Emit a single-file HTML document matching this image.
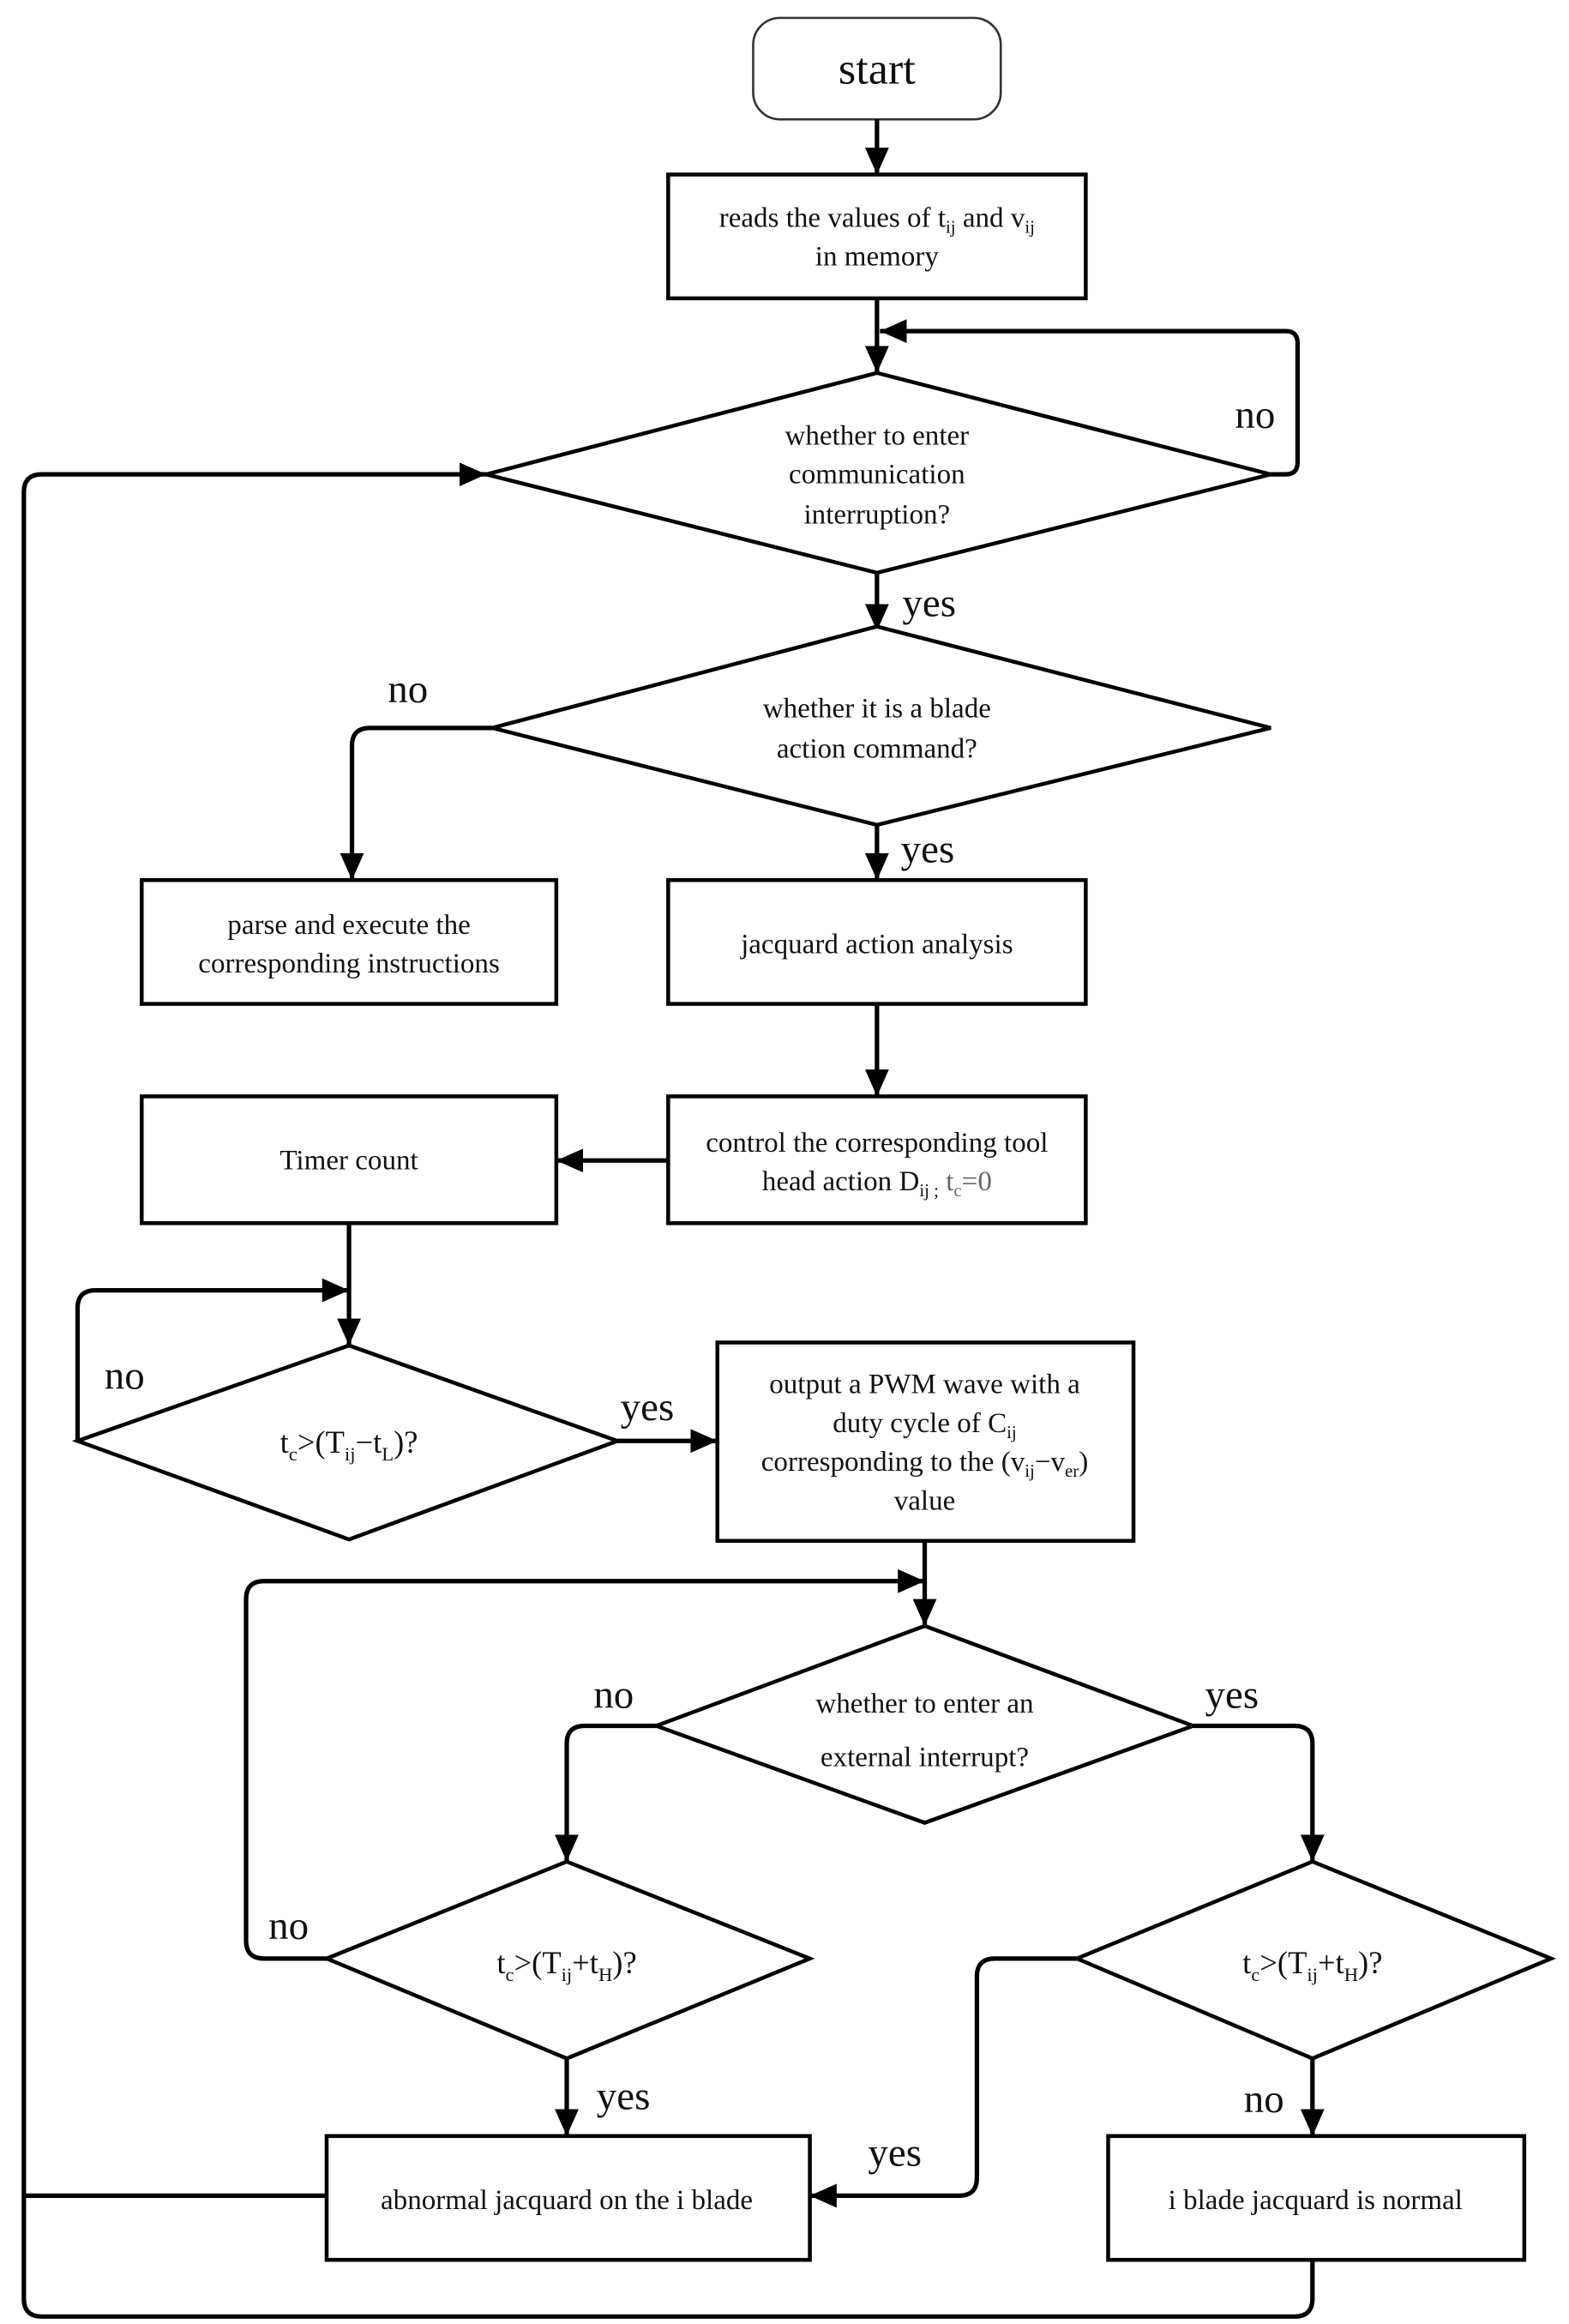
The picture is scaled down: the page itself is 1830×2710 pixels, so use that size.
<!DOCTYPE html>
<html><head><meta charset="utf-8"><style>
html,body{margin:0;padding:0;background:#fff;}
svg{display:block;}
text{font-family:"Liberation Serif",serif;fill:#111;}
.t{font-size:19px;text-anchor:middle;}
.l{font-size:27px;}
.s{stroke:#000;stroke-width:3;fill:none;stroke-linejoin:round;}
.b{stroke:#000;stroke-width:2.6;fill:#fff;}
</style></head><body>
<svg width="1830" height="2710" viewBox="0 0 1052 1558" preserveAspectRatio="none" xmlns="http://www.w3.org/2000/svg">
<defs><marker id="a" markerWidth="10" markerHeight="10" refX="9" refY="5" orient="auto" markerUnits="userSpaceOnUse" viewBox="0 0 10 10"><path d="M0,0 L10,5 L0,10 z" fill="#000"/></marker>
<marker id="A" markerWidth="18" markerHeight="16" refX="18" refY="8" orient="auto" markerUnits="userSpaceOnUse"><path d="M0,0 L18,8 L0,16 z" fill="#000"/></marker></defs>

<rect x="505" y="12" width="166" height="68" rx="18" fill="#fff" stroke="#333" stroke-width="1.5"/>
<text x="588" y="56" class="t" style="font-size:30px">start</text>
<line x1="588" y1="80" x2="588" y2="117" class="s" marker-end="url(#A)"/>

<rect x="448" y="117" width="280" height="83" class="b"/>
<text x="588" y="152" class="t">reads the values of t<tspan font-size="12" dy="4">ij</tspan><tspan dy="-4"> and v</tspan><tspan font-size="12" dy="4">ij</tspan></text>
<text x="588" y="178" class="t">in memory</text>

<line x1="588" y1="200" x2="588" y2="250" class="s" marker-end="url(#A)"/>
<path d="M852,318 H862 Q870,318 870,310 V230 Q870,222 862,222 H590" class="s" marker-end="url(#A)"/>
<text x="828" y="287" class="l">no</text>

<polygon points="326,318 588,250 852,318 588,384" class="b" stroke-width="3"/>
<text x="588" y="298" class="t">whether to enter</text>
<text x="588" y="324" class="t">communication</text>
<text x="588" y="351" class="t">interruption?</text>

<line x1="588" y1="384" x2="588" y2="423" class="s" marker-end="url(#A)"/>
<text x="605" y="413" class="l">yes</text>

<polygon points="330,488 588,420 852,488 588,553" class="b" stroke-width="3"/>
<text x="588" y="481" class="t">whether it is a blade</text>
<text x="588" y="508" class="t">action command?</text>

<path d="M330,488 H248 Q236,488 236,500 V590" class="s" marker-end="url(#A)"/>
<text x="260" y="471" class="l">no</text>
<line x1="588" y1="553" x2="588" y2="590" class="s" marker-end="url(#A)"/>
<text x="604" y="578" class="l">yes</text>

<rect x="95" y="590" width="278" height="83" class="b"/>
<text x="234" y="626" class="t">parse and execute the</text>
<text x="234" y="652" class="t">corresponding instructions</text>
<rect x="448" y="590" width="280" height="83" class="b"/>
<text x="588" y="639" class="t">jacquard action analysis</text>

<line x1="588" y1="673" x2="588" y2="735" class="s" marker-end="url(#A)"/>
<rect x="448" y="735" width="280" height="85" class="b"/>
<text x="588" y="772" class="t">control the corresponding tool</text>
<text x="588" y="798" class="t">head action D<tspan font-size="12" dy="4">ij ;</tspan><tspan dy="-4" fill="#666"> t</tspan><tspan font-size="12" dy="4" fill="#666">c</tspan><tspan dy="-4" fill="#666">=0</tspan></text>
<line x1="448" y1="778" x2="373" y2="778" class="s" marker-end="url(#A)"/>

<rect x="95" y="735" width="278" height="85" class="b"/>
<text x="234" y="784" class="t">Timer count</text>

<line x1="234" y1="820" x2="234" y2="902" class="s" marker-end="url(#A)"/>
<path d="M52,966 V877 Q52,865 64,865 H234" class="s" marker-end="url(#A)"/>
<text x="70" y="931" class="l">no</text>

<polygon points="52,966 234,902 414,966 234,1032" class="b" stroke-width="3"/>
<text x="234" y="974" class="t" style="font-size:21px">t<tspan font-size="13" dy="5">c</tspan><tspan dy="-5">&gt;(T</tspan><tspan font-size="13" dy="5">ij</tspan><tspan dy="-5">−t</tspan><tspan font-size="13" dy="5">L</tspan><tspan dy="-5">)?</tspan></text>

<line x1="414" y1="966" x2="481" y2="966" class="s" marker-end="url(#A)"/>
<text x="416" y="952" class="l">yes</text>

<rect x="481" y="900" width="279" height="133" class="b"/>
<text x="620" y="934" class="t">output a PWM wave with a</text>
<text x="620" y="960" class="t">duty cycle of C<tspan font-size="12" dy="4">ij</tspan></text>
<text x="620" y="986" class="t">corresponding to the (v<tspan font-size="12" dy="4">ij</tspan><tspan dy="-4">−v</tspan><tspan font-size="12" dy="4">er</tspan><tspan dy="-4">)</tspan></text>
<text x="620" y="1012" class="t">value</text>

<line x1="620" y1="1033" x2="620" y2="1090" class="s" marker-end="url(#A)"/>
<path d="M219,1313 H177 Q165,1313 165,1301 V1072 Q165,1060 177,1060 H620" class="s" marker-end="url(#A)"/>
<text x="180" y="1300" class="l">no</text>

<polygon points="440,1157 620,1090 800,1157 620,1222" class="b" stroke-width="3"/>
<text x="620" y="1148" class="t">whether to enter an</text>
<text x="620" y="1184" class="t">external interrupt?</text>

<path d="M440,1157 H392 Q380,1157 380,1169 V1248" class="s" marker-end="url(#A)"/>
<text x="398" y="1145" class="l">no</text>
<path d="M800,1157 H868 Q880,1157 880,1169 V1248" class="s" marker-end="url(#A)"/>
<text x="808" y="1145" class="l">yes</text>

<polygon points="219,1313 380,1248 543,1313 380,1380" class="b" stroke-width="3"/>
<text x="380" y="1323" class="t" style="font-size:21px">t<tspan font-size="13" dy="5">c</tspan><tspan dy="-5">&gt;(T</tspan><tspan font-size="13" dy="5">ij</tspan><tspan dy="-5">+t</tspan><tspan font-size="13" dy="5">H</tspan><tspan dy="-5">)?</tspan></text>
<polygon points="722,1313 880,1248 1040,1313 880,1380" class="b" stroke-width="3"/>
<text x="880" y="1323" class="t" style="font-size:21px">t<tspan font-size="13" dy="5">c</tspan><tspan dy="-5">&gt;(T</tspan><tspan font-size="13" dy="5">ij</tspan><tspan dy="-5">+t</tspan><tspan font-size="13" dy="5">H</tspan><tspan dy="-5">)?</tspan></text>

<line x1="380" y1="1380" x2="380" y2="1432" class="s" marker-end="url(#A)"/>
<text x="400" y="1414" class="l">yes</text>
<line x1="880" y1="1380" x2="880" y2="1432" class="s" marker-end="url(#A)"/>
<text x="834" y="1416" class="l">no</text>
<path d="M722,1313 H667 Q655,1313 655,1325 V1460 Q655,1472 643,1472 H543" class="s" marker-end="url(#A)"/>
<text x="582" y="1452" class="l">yes</text>

<rect x="219" y="1432" width="324" height="83" class="b"/>
<text x="380" y="1481" class="t">abnormal jacquard on the i blade</text>
<rect x="743" y="1432" width="279" height="83" class="b"/>
<text x="882" y="1481" class="t">i blade jacquard is normal</text>

<path d="M219,1472 H16" class="s"/>
<path d="M880,1515 V1541 Q880,1553 868,1553 H28 Q16,1553 16,1541 V330 Q16,318 28,318 H326" class="s" marker-end="url(#A)"/>
</svg>
</body></html>
